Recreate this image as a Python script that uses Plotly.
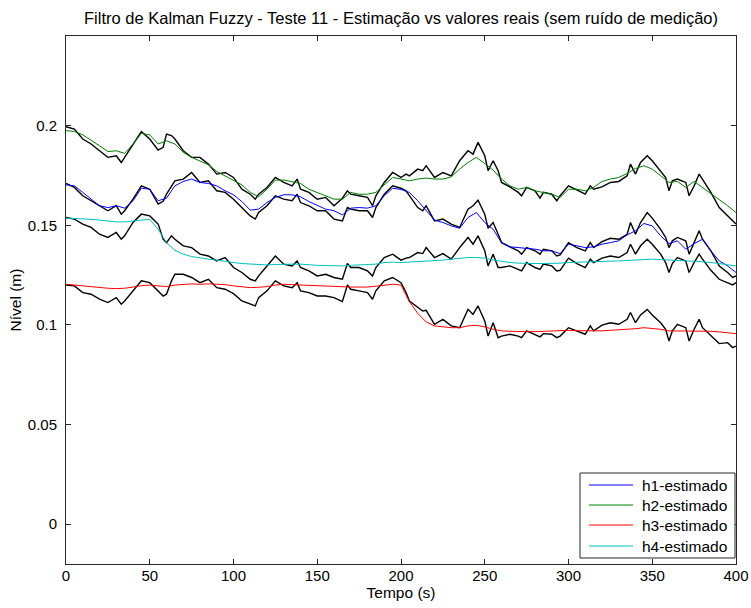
import plotly.graph_objects as go

# ---------------- data ----------------
# estimates, sampled every 5 s
t_est = list(range(0, 405, 5))

h1_est = [0.1703, 0.1698, 0.1665, 0.1631, 0.1598, 0.1589, 0.1598, 0.1586, 0.1623, 0.1686,
          0.1681, 0.1623, 0.1636, 0.1698, 0.1720, 0.1732, 0.1715, 0.1710, 0.1698, 0.1673,
          0.1653, 0.1619, 0.1576, 0.1581, 0.1614, 0.1640, 0.1653, 0.1653, 0.1643, 0.1619,
          0.1598, 0.1581, 0.1573, 0.1552, 0.1586, 0.1589, 0.1586, 0.1598, 0.1648, 0.1686,
          0.1680, 0.1665, 0.1623, 0.1576, 0.1526, 0.1514, 0.1497, 0.1485, 0.1539, 0.1564,
          0.1514, 0.1480, 0.1413, 0.1392, 0.1388, 0.1385, 0.1380, 0.1372, 0.1372, 0.1358,
          0.1405, 0.1397, 0.1388, 0.1392, 0.1405, 0.1413, 0.1422, 0.1452, 0.1472, 0.1509,
          0.1497, 0.1447, 0.1408, 0.1422, 0.1380, 0.1408, 0.1430, 0.1372, 0.1321, 0.1296,
          0.1263]

h2_est = [0.1975, 0.1971, 0.1954, 0.1928, 0.1899, 0.1870, 0.1874, 0.1861, 0.1908, 0.1961,
          0.1954, 0.1908, 0.1924, 0.1908, 0.1866, 0.1841, 0.1824, 0.1804, 0.1770, 0.1748,
          0.1727, 0.1703, 0.1665, 0.1643, 0.1681, 0.1727, 0.1727, 0.1720, 0.1710, 0.1681,
          0.1665, 0.1648, 0.1631, 0.1631, 0.1665, 0.1656, 0.1656, 0.1665, 0.1703, 0.1740,
          0.1732, 0.1723, 0.1732, 0.1737, 0.1732, 0.1732, 0.1743, 0.1782, 0.1815, 0.1841,
          0.1810, 0.1777, 0.1732, 0.1698, 0.1681, 0.1690, 0.1673, 0.1665, 0.1656, 0.1640,
          0.1681, 0.1681, 0.1673, 0.1690, 0.1720, 0.1732, 0.1740, 0.1760, 0.1785, 0.1799,
          0.1782, 0.1749, 0.1715, 0.1720, 0.1690, 0.1720, 0.1690, 0.1658, 0.1630, 0.1598,
          0.1564]

h3_est = [0.1204, 0.1200, 0.1196, 0.1190, 0.1187, 0.1184, 0.1182, 0.1184, 0.1190, 0.1197,
          0.1200, 0.1197, 0.1192, 0.1200, 0.1204, 0.1206, 0.1204, 0.1206, 0.1204, 0.1202,
          0.1196, 0.1190, 0.1187, 0.1189, 0.1192, 0.1200, 0.1204, 0.1202, 0.1200, 0.1199,
          0.1196, 0.1194, 0.1192, 0.1190, 0.1190, 0.1190, 0.1190, 0.1194, 0.1200, 0.1204,
          0.1200, 0.1117, 0.1058, 0.1015, 0.0995, 0.0990, 0.0986, 0.0986, 0.0995, 0.0998,
          0.0990, 0.0978, 0.0970, 0.0968, 0.0966, 0.0966, 0.0966, 0.0968, 0.0970, 0.0971,
          0.0973, 0.0971, 0.0970, 0.0970, 0.0970, 0.0973, 0.0975, 0.0978, 0.0981, 0.0986,
          0.0983, 0.0978, 0.0970, 0.0970, 0.0970, 0.0970, 0.0970, 0.0968, 0.0965, 0.0961,
          0.0956]

h4_est = [0.1536, 0.1535, 0.1533, 0.1530, 0.1526, 0.1522, 0.1517, 0.1517, 0.1522, 0.1527,
          0.1530, 0.1480, 0.1413, 0.1375, 0.1355, 0.1343, 0.1335, 0.1330, 0.1325, 0.1318,
          0.1313, 0.1308, 0.1305, 0.1301, 0.1301, 0.1303, 0.1305, 0.1305, 0.1305, 0.1301,
          0.1299, 0.1298, 0.1296, 0.1296, 0.1299, 0.1301, 0.1301, 0.1305, 0.1313, 0.1315,
          0.1313, 0.1315, 0.1316, 0.1320, 0.1321, 0.1325, 0.1330, 0.1335, 0.1338, 0.1338,
          0.1335, 0.1326, 0.1318, 0.1313, 0.1310, 0.1308, 0.1308, 0.1308, 0.1308, 0.1310,
          0.1313, 0.1315, 0.1316, 0.1318, 0.1318, 0.1320, 0.1321, 0.1323, 0.1325, 0.1328,
          0.1330, 0.1328, 0.1325, 0.1323, 0.1321, 0.1320, 0.1318, 0.1313, 0.1308, 0.1303,
          0.1296]

# real values (black), read at these instants
t_real = [0, 5, 10, 15, 20, 25, 30, 33, 35, 40,
          45, 50, 55, 58, 60, 63, 65, 70, 75, 80,
          85, 90, 95, 100, 105, 110, 113, 115, 120, 125,
          130, 135, 138, 140, 145, 150, 155, 160, 165, 168,
          170, 175, 180, 183, 185, 190, 195, 200, 203, 205,
          210, 213, 215, 220, 225, 230, 235, 240, 243, 246,
          250, 252, 255, 258, 260, 265, 270, 272, 275, 280,
          283, 285, 290, 293, 295, 300, 305, 310, 313, 315,
          320, 325, 330, 335, 337, 340, 343, 347, 350, 355,
          358, 360, 362, 365, 370, 372, 375, 378, 380, 385,
          390, 395, 398, 400]

h1_real = [0.1710, 0.1690, 0.1648, 0.1623, 0.1598, 0.1573, 0.1598, 0.1556, 0.1573, 0.1631,
           0.1698, 0.1681, 0.1606, 0.1620, 0.1656, 0.1698, 0.1723, 0.1732, 0.1765, 0.1715,
           0.1723, 0.1673, 0.1665, 0.1631, 0.1589, 0.1547, 0.1531, 0.1564, 0.1598, 0.1648,
           0.1631, 0.1623, 0.1656, 0.1614, 0.1598, 0.1573, 0.1573, 0.1531, 0.1522, 0.1589,
           0.1581, 0.1573, 0.1573, 0.1539, 0.1589, 0.1656, 0.1698, 0.1686, 0.1673, 0.1648,
           0.1589, 0.1573, 0.1598, 0.1522, 0.1531, 0.1506, 0.1489, 0.1581, 0.1598, 0.1626,
           0.1556, 0.1485, 0.1514, 0.1455, 0.1413, 0.1392, 0.1372, 0.1355, 0.1388, 0.1372,
           0.1355, 0.1380, 0.1372, 0.1346, 0.1351, 0.1413, 0.1388, 0.1372, 0.1413, 0.1388,
           0.1418, 0.1435, 0.1430, 0.1455, 0.1514, 0.1455, 0.1514, 0.1564, 0.1536, 0.1480,
           0.1439, 0.1388, 0.1422, 0.1439, 0.1422, 0.1355, 0.1413, 0.1472, 0.1430, 0.1372,
           0.1296, 0.1263, 0.1238, 0.1246]

h2_real = [0.1995, 0.1983, 0.1933, 0.1908, 0.1874, 0.1841, 0.1849, 0.1815, 0.1841, 0.1908,
           0.1970, 0.1933, 0.1877, 0.1891, 0.1958, 0.1950, 0.1933, 0.1874, 0.1841, 0.1841,
           0.1807, 0.1757, 0.1765, 0.1740, 0.1681, 0.1656, 0.1631, 0.1656, 0.1690, 0.1740,
           0.1715, 0.1698, 0.1732, 0.1681, 0.1665, 0.1631, 0.1640, 0.1598, 0.1636, 0.1673,
           0.1656, 0.1648, 0.1640, 0.1598, 0.1648, 0.1715, 0.1765, 0.1740, 0.1757, 0.1748,
           0.1782, 0.1774, 0.1799, 0.1740, 0.1765, 0.1748, 0.1824, 0.1874, 0.1857, 0.1916,
           0.1849, 0.1774, 0.1824, 0.1774, 0.1715, 0.1693, 0.1665, 0.1648, 0.1690, 0.1673,
           0.1636, 0.1665, 0.1656, 0.1623, 0.1648, 0.1698, 0.1676, 0.1656, 0.1698, 0.1681,
           0.1693, 0.1715, 0.1720, 0.1748, 0.1807, 0.1757, 0.1815, 0.1849, 0.1824, 0.1774,
           0.1740, 0.1673, 0.1723, 0.1732, 0.1715, 0.1648, 0.1698, 0.1757, 0.1732, 0.1665,
           0.1589, 0.1547, 0.1522, 0.1506]

h3_real = [0.1200, 0.1196, 0.1162, 0.1154, 0.1129, 0.1112, 0.1137, 0.1104, 0.1120, 0.1171,
           0.1221, 0.1212, 0.1171, 0.1145, 0.1154, 0.1221, 0.1254, 0.1254, 0.1238, 0.1212,
           0.1229, 0.1187, 0.1179, 0.1157, 0.1120, 0.1104, 0.1095, 0.1137, 0.1171, 0.1221,
           0.1196, 0.1187, 0.1212, 0.1171, 0.1162, 0.1145, 0.1145, 0.1137, 0.1117, 0.1200,
           0.1179, 0.1171, 0.1162, 0.1129, 0.1171, 0.1221, 0.1238, 0.1212, 0.1162, 0.1120,
           0.1087, 0.1070, 0.1073, 0.1003, 0.1028, 0.0995, 0.0986, 0.1078, 0.1053, 0.1095,
           0.1020, 0.0944, 0.1011, 0.0936, 0.0944, 0.0953, 0.0944, 0.0936, 0.0970, 0.0949,
           0.0940, 0.0956, 0.0953, 0.0936, 0.0944, 0.0986, 0.0970, 0.0953, 0.0995, 0.0970,
           0.0999, 0.1011, 0.1003, 0.1028, 0.1062, 0.1011, 0.1050, 0.1078, 0.1050, 0.1011,
           0.0978, 0.0919, 0.0970, 0.1003, 0.0986, 0.0919, 0.0978, 0.1028, 0.0986, 0.0944,
           0.0906, 0.0911, 0.0886, 0.0894]

h4_real = [0.1539, 0.1531, 0.1506, 0.1489, 0.1455, 0.1439, 0.1464, 0.1430, 0.1447, 0.1514,
           0.1556, 0.1547, 0.1506, 0.1430, 0.1413, 0.1447, 0.1430, 0.1397, 0.1388, 0.1355,
           0.1346, 0.1321, 0.1338, 0.1288, 0.1263, 0.1229, 0.1221, 0.1246, 0.1296, 0.1346,
           0.1305, 0.1296, 0.1321, 0.1288, 0.1271, 0.1246, 0.1254, 0.1238, 0.1229, 0.1308,
           0.1288, 0.1288, 0.1271, 0.1246, 0.1288, 0.1338, 0.1355, 0.1325, 0.1335, 0.1338,
           0.1363, 0.1358, 0.1388, 0.1338, 0.1358, 0.1330, 0.1388, 0.1439, 0.1405, 0.1447,
           0.1372, 0.1296, 0.1355, 0.1288, 0.1288, 0.1296, 0.1279, 0.1271, 0.1313, 0.1288,
           0.1279, 0.1305, 0.1296, 0.1271, 0.1274, 0.1335, 0.1308, 0.1288, 0.1330, 0.1313,
           0.1335, 0.1346, 0.1338, 0.1363, 0.1405, 0.1355, 0.1397, 0.1430, 0.1405, 0.1355,
           0.1313, 0.1263, 0.1308, 0.1338, 0.1321, 0.1263, 0.1313, 0.1355, 0.1330, 0.1274,
           0.1229, 0.1212, 0.1201, 0.1212]

est_names = ["h1-estimado", "h2-estimado", "h3-estimado", "h4-estimado"]
x_ticks = [0, 50, 100, 150, 200, 250, 300, 350, 400]
y_ticks = [0, 0.05, 0.1, 0.15, 0.2]
y_ticktext = ["0", "0.05", "0.1", "0.15", "0.2"]

title_text = "Filtro de Kalman Fuzzy - Teste 11 - Estimação vs valores reais (sem ruído de medição)"

# ---------------- figure ----------------
FONT = "Liberation Sans, Arial, sans-serif"
AX = "#262626"
fig = go.Figure()

for ys in [h1_real, h2_real, h3_real, h4_real]:
    fig.add_trace(go.Scatter(x=t_real, y=ys, mode="lines",
                             line=dict(color="black", width=1.4),
                             showlegend=False, hoverinfo="skip"))

est_colors = ["#0000ff", "#008000", "#ff0000", "#00bfbf"]
for name, ys, col in zip(est_names, [h1_est, h2_est, h3_est, h4_est], est_colors):
    fig.add_trace(go.Scatter(x=t_est, y=ys, mode="lines", name=name,
                             line=dict(color=col, width=1), showlegend=False))

axis_common = dict(showgrid=False, zeroline=False, showline=True, linecolor=AX,
                   linewidth=1, mirror="ticks", ticks="inside", ticklen=5,
                   tickcolor=AX, automargin=False,
                   tickfont=dict(family=FONT, size=15, color="black"))

fig.update_xaxes(range=[0, 400], tickvals=x_ticks, ticklabelstandoff=-2,
                 title=dict(text="Tempo (s)", font=dict(family=FONT, size=15.5, color="black"),
                            standoff=1),
                 **axis_common)
fig.update_yaxes(range=[-0.02, 0.245], tickvals=y_ticks, ticktext=y_ticktext,
                 ticklabelstandoff=5,
                 title=dict(text="Nível (m)", font=dict(family=FONT, size=15.5, color="black"),
                            standoff=2),
                 **axis_common)

# ---- legend box drawn in plot-area (paper) coordinates ----
PX0, PY0, PW, PH = 66, 36, 670, 528          # plot area in pixels
def px(x):
    return (x - PX0) / PW
def py(y):
    return (PY0 + PH - y) / PH

shapes = [dict(type="rect", xref="paper", yref="paper",
               x0=px(580), x1=px(735), y0=py(558), y1=py(473),
               line=dict(color=AX, width=1), fillcolor="white", layer="above")]
annotations = []
row_y = [485, 505, 525, 546]
for name, col, ry in zip(est_names, est_colors, row_y):
    shapes.append(dict(type="line", xref="paper", yref="paper",
                       x0=px(589), x1=px(633), y0=py(ry), y1=py(ry),
                       line=dict(color=col, width=1), layer="above"))
    annotations.append(dict(text=name, xref="paper", yref="paper",
                            x=px(640), y=py(ry), xanchor="left", yanchor="middle",
                            showarrow=False,
                            font=dict(family=FONT, size=15.5, color="black")))

fig.update_layout(
    width=751, height=608,
    margin=dict(l=66, r=15, t=36, b=44),
    paper_bgcolor="white", plot_bgcolor="white",
    title=dict(text=title_text, x=(66 + 670 / 2) / 751, xanchor="center",
               y=1 - 18 / 608, yanchor="middle",
               font=dict(family=FONT, size=16.5, color="black")),
    shapes=shapes, annotations=annotations,
    showlegend=False,
)

fig.write_html("out.html")
